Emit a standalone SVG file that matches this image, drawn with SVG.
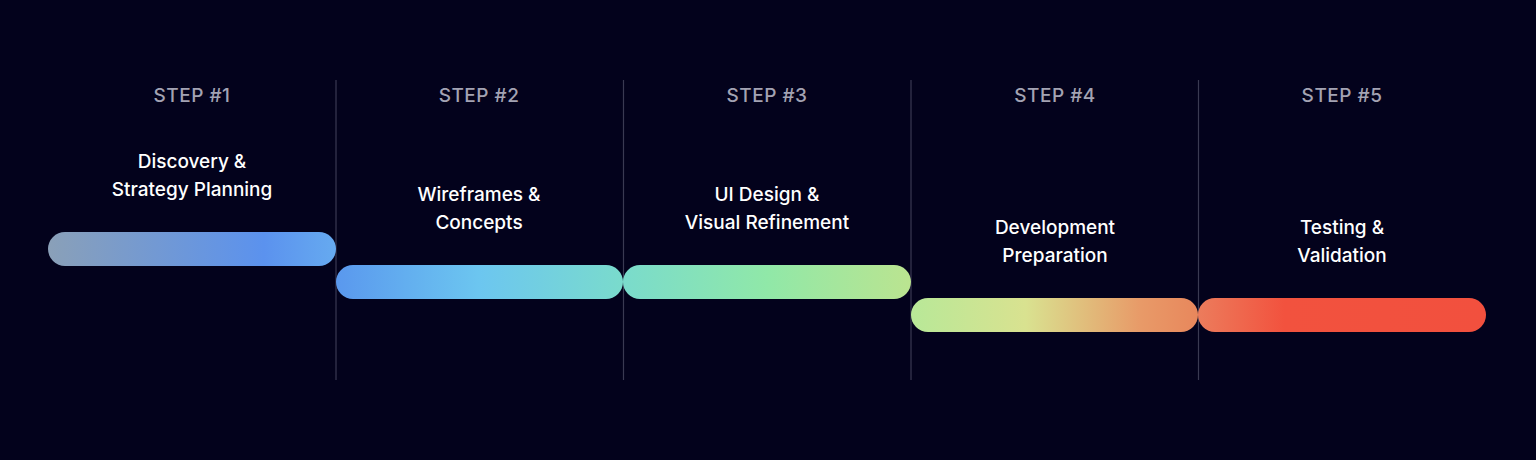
<svg xmlns="http://www.w3.org/2000/svg" width="1536" height="460" viewBox="0 0 1536 460">
<style>
.step{font-family:Inter,"Liberation Sans",sans-serif;font-size:19px;font-weight:500;fill:#a3a3b3;text-anchor:middle;letter-spacing:0.5px}
.title{font-family:Inter,"Liberation Sans",sans-serif;font-size:19px;font-weight:500;fill:#ffffff;text-anchor:middle}
.div{stroke:#3a3a52;stroke-width:1.2}
</style>
<defs>
<linearGradient id="g1" x1="0" y1="0" x2="1" y2="0"><stop offset="0" stop-color="#8aa0b8"/><stop offset="0.75" stop-color="#5b92ee"/><stop offset="1" stop-color="#66aaf0"/></linearGradient>
<linearGradient id="g2" x1="0" y1="0" x2="1" y2="0"><stop offset="0" stop-color="#5a98ee"/><stop offset="0.5" stop-color="#6cc6f0"/><stop offset="1" stop-color="#7adbcc"/></linearGradient>
<linearGradient id="g3" x1="0" y1="0" x2="1" y2="0"><stop offset="0" stop-color="#7adbcc"/><stop offset="0.5" stop-color="#90e8a8"/><stop offset="1" stop-color="#bbe490"/></linearGradient>
<linearGradient id="g4" x1="0" y1="0" x2="1" y2="0"><stop offset="0" stop-color="#b8e898"/><stop offset="0.4" stop-color="#d9e290"/><stop offset="0.8" stop-color="#e89a68"/><stop offset="1" stop-color="#e8875c"/></linearGradient>
<linearGradient id="g5" x1="0" y1="0" x2="1" y2="0"><stop offset="0" stop-color="#ec7c5c"/><stop offset="0.3" stop-color="#f2523e"/><stop offset="1" stop-color="#f2503e"/></linearGradient>
</defs>
<rect width="1536" height="460" fill="#03021c"/>
<g id="connectors">
<line class="div" x1="336" y1="80" x2="336" y2="380"/>
<line class="div" x1="623.5" y1="80" x2="623.5" y2="380"/>
<line class="div" x1="911" y1="80" x2="911" y2="380"/>
<line class="div" x1="1198.5" y1="80" x2="1198.5" y2="380"/>
</g>
<g id="step1">
<text class="step" x="192" y="102">STEP #1</text>
<text class="title" x="192" y="168">Discovery &amp;</text>
<text class="title" x="192" y="196">Strategy Planning</text>
<rect x="48" y="232" width="288" height="34" rx="17" fill="url(#g1)"/>
</g>
<g id="step2">
<text class="step" x="479" y="102">STEP #2</text>
<text class="title" x="479" y="201">Wireframes &amp;</text>
<text class="title" x="479" y="229">Concepts</text>
<rect x="336" y="265" width="287" height="34" rx="17" fill="url(#g2)"/>
</g>
<g id="step3">
<text class="step" x="767" y="102">STEP #3</text>
<text class="title" x="767" y="201">UI Design &amp;</text>
<text class="title" x="767" y="229">Visual Refinement</text>
<rect x="623" y="265" width="288" height="34" rx="17" fill="url(#g3)"/>
</g>
<g id="step4">
<text class="step" x="1055" y="102">STEP #4</text>
<text class="title" x="1055" y="234">Development</text>
<text class="title" x="1055" y="262">Preparation</text>
<rect x="911" y="298" width="287" height="34" rx="17" fill="url(#g4)"/>
</g>
<g id="step5">
<text class="step" x="1342" y="102">STEP #5</text>
<text class="title" x="1342" y="234">Testing &amp;</text>
<text class="title" x="1342" y="262">Validation</text>
<rect x="1198" y="298" width="288" height="34" rx="17" fill="url(#g5)"/>
</g>
</svg>
